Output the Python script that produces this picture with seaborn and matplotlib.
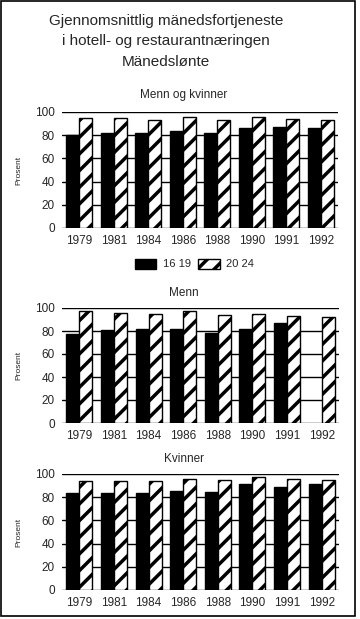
import numpy as np
import pandas as pd
import seaborn as sns
import matplotlib.pyplot as plt
from matplotlib.patches import Rectangle

years = ['1979', '1981', '1984', '1986', '1988', '1990', '1991', '1992']
groups = ['16 19', '20 24']

# Menn og kvinner
begge_16_19 = [80, 82, 82, 84, 82, 86, 87, 86]
begge_20_24 = [95, 95, 93, 96, 93, 96, 94, 93]
# Menn
menn_16_19 = [77, 81, 82, 82, 78.5, 82, 87, np.nan]
menn_20_24 = [97.5, 96, 95, 97, 94, 95, 93, 92]
# Kvinner
kvinner_16_19 = [84, 84, 84, 85.5, 84.5, 91, 89, 91]
kvinner_20_24 = [94, 94, 94, 96, 95, 97.5, 96, 95]

panels = [
    ('Menn og kvinner', begge_16_19, begge_20_24),
    ('Menn', menn_16_19, menn_20_24),
    ('Kvinner', kvinner_16_19, kvinner_20_24),
]

sns.set_style('white')
plt.rcParams['font.family'] = ['Liberation Sans', 'DejaVu Sans']
plt.rcParams['hatch.linewidth'] = 2.5
plt.rcParams['hatch.color'] = 'black'

W, H = 360, 619
fig = plt.figure(figsize=(3.6, 6.19), dpi=100)

# panel boxes in pixels: (left, top, right, bottom)
boxes = [(62, 112, 338, 228), (62, 308, 339, 423), (62, 474, 339, 590)]
title_y = [95, 293, 459]
HATCH = '//'


def to_fig(l, t, r, b):
    return [l / W, 1 - b / H, (r - l) / W, (b - t) / H]


for i, (name, a, b) in enumerate(panels):
    ax = fig.add_axes(to_fig(*boxes[i]))
    df = pd.DataFrame({
        'year': years * 2,
        'group': [groups[0]] * len(years) + [groups[1]] * len(years),
        'value': a + b,
    })
    sns.barplot(data=df, x='year', y='value', hue='group', order=years,
                hue_order=groups, palette=['black', 'white'],
                edgecolor='black', linewidth=1, width=0.75, saturation=1,
                ax=ax, legend=(i == 0))
    for p in ax.containers[1]:
        p.set_hatch(HATCH)
    ax.set_ylim(0, 100)
    ax.set_xlim(-0.5, len(years) - 0.5)
    ax.set_yticks(range(0, 101, 20))
    ax.yaxis.grid(True, color='black', linewidth=1)
    ax.set_axisbelow(True)
    for s in ax.spines.values():
        s.set_visible(False)
    ax.tick_params(axis='both', length=0, labelsize=8.5, pad=5)
    ax.set_xlabel('')
    ax.set_ylabel('Prosent', fontsize=6, labelpad=9)
    fig.text(184 / W, 1 - title_y[i] / H, name, ha='center', va='center',
             fontsize=8.5)
    if i == 0:
        handles, labels = ax.get_legend_handles_labels()
        handles[1].set_hatch(HATCH)
        handles[1].set_edgecolor('black')
        ax.legend(handles, labels, loc='center', bbox_to_anchor=(0.48, -0.31),
                  ncol=2, frameon=False, fontsize=8, handlelength=1.9,
                  handleheight=1.0, handletextpad=0.6, columnspacing=0.7)

# main title
for txt, y in [('Gjennomsnittlig mänedsfortjeneste', 21),
               ('i hotell- og restaurantnæringen', 41),
               ('Mänedslønte', 62)]:
    fig.text(166 / W, 1 - y / H, txt, ha='center', va='center', fontsize=11)

# frame around the whole figure
fig.patches.append(Rectangle((1 / W, 3 / H), 354 / W, 615 / H,
                             transform=fig.transFigure, fill=False,
                             edgecolor='black', linewidth=1.2))

fig.savefig('out.png', dpi=100)
